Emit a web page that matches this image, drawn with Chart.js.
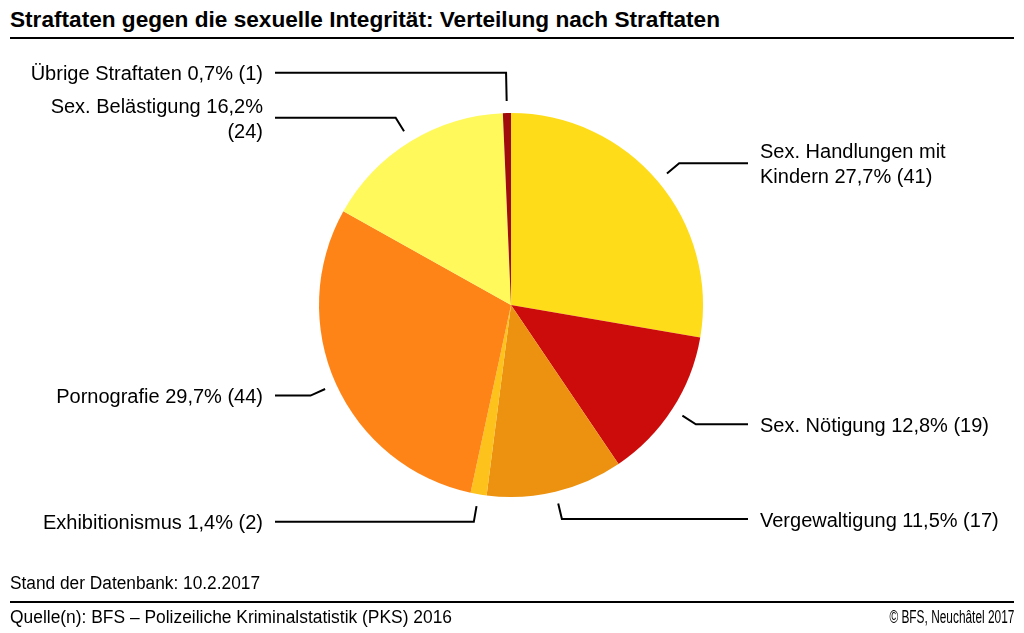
<!DOCTYPE html>
<html lang="de">
<head>
<meta charset="utf-8">
<title>Straftaten gegen die sexuelle Integrität</title>
<script src="https://cdn.jsdelivr.net/npm/chart.js@4.4.1/dist/chart.umd.min.js"></script>
<style>
    body { margin: 0; background: #fff; }
    #wrap { position: relative; width: 1024px; height: 633px; overflow: hidden; font-family: "Liberation Sans", Arial, sans-serif; color: #000; }
    #pie { position: absolute; left: 0; top: 0; }
    .title { position: absolute; left: 10px; top: 7px; font: bold 22px "Liberation Sans", Arial, sans-serif; white-space: nowrap; transform-origin: 0 0; }
    .rule { position: absolute; left: 10px; width: 1004px; height: 2px; background: #000; }
    .foot { position: absolute; font: 18px "Liberation Sans", Arial, sans-serif; white-space: nowrap; line-height: 20px; }
    .foot.r { transform-origin: 100% 0; }
    .foot.l { transform-origin: 0 0; }
</style>
</head>
<body>
<div id="wrap">
    <div class="title" data-fit="710">Straftaten gegen die sexuelle Integrität: Verteilung nach Straftaten</div>
    <div class="rule" style="top: 37px;"></div>
    <canvas id="pie" width="1024" height="633"></canvas>
    <div class="foot l" data-fit="250" style="left: 10px; top: 573px;">Stand der Datenbank: 10.2.2017</div>
    <div class="rule" style="top: 601px;"></div>
    <div class="foot l" data-fit="442" style="left: 10px; top: 607px;">Quelle(n): BFS – Polizeiliche Kriminalstatistik (PKS) 2016</div>
    <div class="foot r" data-fit="125" style="right: 10px; top: 607px;">© BFS, Neuchâtel 2017</div>
</div>
<script>
// clockwise from 12 o'clock
const categories = [
    'Sex. Handlungen mit Kindern',
    'Sex. Nötigung',
    'Vergewaltigung',
    'Exhibitionismus',
    'Pornografie',
    'Sex. Belästigung',
    'Übrige Straftaten'
];
const counts = [41, 19, 17, 2, 44, 24, 1];
const sliceColors = ['#FEDC19', '#CC0C0A', '#EC9210', '#FEC21C', '#FE8417', '#FFF95C', '#A00B0B'];

const total = counts.reduce((a, b) => a + b, 0);

// squeeze the narrow title / footer texts to the width they have in the original
document.querySelectorAll('[data-fit]').forEach(el => {
    const target = +el.dataset.fit;
    const w = el.getBoundingClientRect().width;
    if (w > 0) el.style.transform = `scaleX(${target / w})`;
});

function labelText(i) {
    const pct = (counts[i] / total * 100).toFixed(1).replace('.', ',');
    return `${categories[i]} ${pct}% (${counts[i]})`;
}

function wrapText(ctx, text, maxWidth) {
    const words = text.split(' ');
    const lines = [];
    let cur = '';
    words.forEach(w => {
        const test = cur ? cur + ' ' + w : w;
        if (ctx.measureText(test).width > maxWidth && cur) {
            lines.push(cur);
            cur = w;
        } else {
            cur = test;
        }
    });
    if (cur) lines.push(cur);
    return lines;
}

// leader lines with elbow + horizontal run out to the label
const leaderLines = {
    id: 'leaderLines',
    afterDatasetsDraw(chart) {
        const ctx = chart.ctx;
        const meta = chart.getDatasetMeta(0);
        const lineH = 25;
        ctx.save();
        ctx.font = '20px "Liberation Sans", Arial, sans-serif';

        const items = meta.data.map((arc, i) => {
            const mid = (arc.startAngle + arc.endAngle) / 2;
            const cos = Math.cos(mid), sin = Math.sin(mid);
            const r = arc.outerRadius;
            return {
                arc, cos, sin, r,
                right: cos >= 0,
                lines: wrapText(ctx, labelText(i), 252),
                y: arc.y + sin * (r + 28)
            };
        });

        // push labels apart where they would collide
        const gapFor = (a, b) => 12 * (a.lines.length + b.lines.length) + 9;
        const left = items.filter(it => !it.right).sort((a, b) => b.y - a.y);
        for (let k = 1; k < left.length; k++) {
            const need = gapFor(left[k - 1], left[k]);
            if (left[k - 1].y - left[k].y < need) left[k].y = left[k - 1].y - need;
        }
        const right = items.filter(it => it.right).sort((a, b) => a.y - b.y);
        for (let k = 1; k < right.length; k++) {
            const need = gapFor(right[k - 1], right[k]);
            if (right[k].y - right[k - 1].y < need) right[k].y = right[k - 1].y + need;
        }

        ctx.strokeStyle = '#000';
        ctx.lineWidth = 2;
        ctx.fillStyle = '#000';
        ctx.textBaseline = 'middle';
        items.forEach(it => {
            const cx = it.arc.x, cy = it.arc.y;
            const x0 = cx + it.cos * (it.r + 12);
            const y0 = cy + it.sin * (it.r + 12);
            let ex, ey = it.y;
            if (Math.abs(it.sin) > 0.2) {
                ex = cx + it.cos * (ey - cy) / it.sin;
            } else {
                ex = cx + it.cos * (it.r + 28);
            }
            const endX = it.right ? 748 : 275;
            ctx.beginPath();
            ctx.moveTo(x0, y0);
            ctx.lineTo(ex, ey);
            ctx.lineTo(endX, ey);
            ctx.stroke();

            ctx.textAlign = it.right ? 'left' : 'right';
            const tx = it.right ? 760 : 263;
            const y1 = ey - (it.lines.length - 1) * lineH / 2;
            it.lines.forEach((ln, k) => ctx.fillText(ln, tx, y1 + k * lineH + 2));
        });
        ctx.restore();
    }
};

new Chart(document.getElementById('pie'), {
    type: 'pie',
    data: {
        labels: categories,
        datasets: [{
            data: counts,
            backgroundColor: sliceColors,
            borderWidth: 0,
            hoverOffset: 0,
            offset: 0
        }]
    },
    options: {
        responsive: false,
        animation: false,
        layout: { padding: { top: 113, bottom: 136, left: 0, right: 2 } },
        plugins: {
            legend: { display: false },
            tooltip: { enabled: false }
        }
    },
    plugins: [leaderLines]
});
</script>
</body>
</html>
